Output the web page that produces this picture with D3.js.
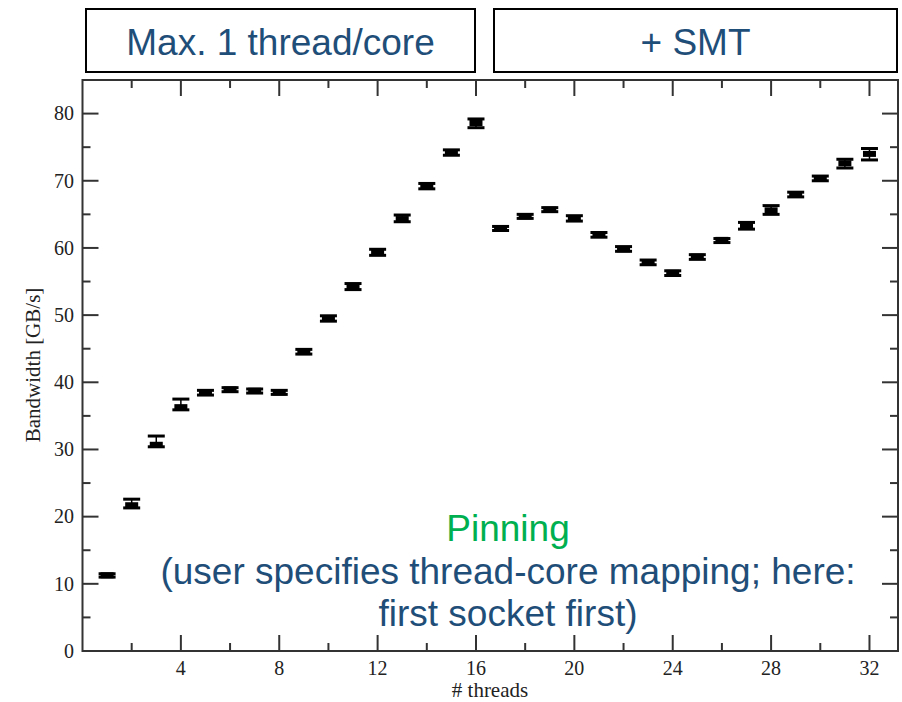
<!DOCTYPE html>
<html>
<head>
<meta charset="utf-8">
<script src="https://cdn.jsdelivr.net/npm/d3@7"></script>
<style>
  body { margin: 0; background: #fff; }
  svg { display: block; }
</style>
</head>
<body>
<div id="chart"></div>
<script>
// thread counts and measured bandwidth (GB/s) with error bar bounds
var threads = d3.range(1, 33);
var bandwidth = [11.27, 21.7, 30.7, 36.3, 38.45, 38.94, 38.74, 38.5,
    44.5, 49.5, 54.2, 59.3, 64.3, 69.2, 74.2, 78.6,
    62.9, 64.7, 65.7, 64.4, 62.0, 59.8, 57.8, 56.3,
    58.7, 61.2, 63.3, 65.6, 68.0, 70.3, 72.6, 74.0];
var errLow = [11.0, 21.3, 30.4, 35.9, 38.1, 38.6, 38.4, 38.2,
    44.2, 49.1, 53.8, 58.9, 63.9, 68.8, 73.8, 77.9,
    62.6, 64.4, 65.4, 64.0, 61.6, 59.5, 57.5, 55.9,
    58.3, 60.8, 62.8, 65.0, 67.6, 70.0, 71.9, 73.1];
var errHigh = [11.5, 22.6, 32.0, 37.5, 38.8, 39.2, 39.0, 38.8,
    44.9, 49.9, 54.7, 59.8, 64.9, 69.6, 74.6, 79.2,
    63.2, 65.0, 66.0, 64.8, 62.3, 60.2, 58.2, 56.6,
    59.0, 61.4, 63.8, 66.3, 68.3, 70.7, 73.2, 74.8];

var xTicks = [4, 8, 12, 16, 20, 24, 28, 32];
var yTicks = [0, 10, 20, 30, 40, 50, 60, 70, 80];
var headers = ["Max. 1 thread/core", "+ SMT"];
var noteTitle = "Pinning";
var noteLines = ["(user specifies thread-core mapping; here:", "first socket first)"];

var width = 902;
var height = 702;

var margin = {
    top: 80,
    bottom: 51,
    left: 82.5,
    right: 4
};

var innerW = width - margin.left - margin.right;
var innerH = height - margin.top - margin.bottom;

var sans = 'Liberation Sans, Arial, sans-serif';
var serif = 'Liberation Serif, Times New Roman, serif';
var blue = '#1F4E79';

var svg = d3.select('#chart')
    .append('svg')
    .attr('width', width)
    .attr('height', height);

// header boxes above the plot
var boxes = [
    {x: 86, w: 389},
    {x: 494, w: 403}
];
boxes.forEach(function(b, i) {
    svg.append('rect')
        .attr('x', b.x)
        .attr('y', 9)
        .attr('width', b.w)
        .attr('height', 63)
        .attr('fill', 'none')
        .attr('stroke', '#000')
        .attr('stroke-width', 2);
    svg.append('text')
        .attr('x', b.x + b.w / 2)
        .attr('y', 55)
        .attr('text-anchor', 'middle')
        .attr('font-family', sans)
        .attr('font-size', 37)
        .attr('fill', blue)
        .text(headers[i]);
});

var g = svg.append('g')
    .attr('transform', 'translate(' + margin.left + ',' + margin.top + ')');

var x_scale = d3.scaleLinear()
    .domain([0, 33.16])
    .range([0, innerW]);

var y_scale = d3.scaleLinear()
    .domain([0, 85])
    .range([innerH, 0]);

var axisColor = '#333';
var major = 16, minor = 8;

// ticks on all four sides, pointing inward
var xAll = d3.range(2, 33, 2);
var yAll = d3.range(5, 85, 5);

var tickG = g.append('g')
    .attr('stroke', axisColor)
    .attr('stroke-width', 2);

xAll.forEach(function(v) {
    var len = v % 4 === 0 ? major : minor;
    var px = x_scale(v);
    tickG.append('line')
        .attr('x1', px).attr('x2', px)
        .attr('y1', innerH).attr('y2', innerH - len);
    tickG.append('line')
        .attr('x1', px).attr('x2', px)
        .attr('y1', 0).attr('y2', len);
});

yAll.forEach(function(v) {
    var len = v % 10 === 0 ? major : minor;
    var py = y_scale(v);
    tickG.append('line')
        .attr('x1', 0).attr('x2', len)
        .attr('y1', py).attr('y2', py);
    tickG.append('line')
        .attr('x1', innerW).attr('x2', innerW - len)
        .attr('y1', py).attr('y2', py);
});

// frame
g.append('rect')
    .attr('x', 0)
    .attr('y', 0)
    .attr('width', innerW)
    .attr('height', innerH)
    .attr('fill', 'none')
    .attr('stroke', axisColor)
    .attr('stroke-width', 2);

// tick labels
g.selectAll('.xlab')
    .data(xTicks)
    .enter()
    .append('text')
    .attr('class', 'xlab')
    .attr('x', function(d) { return x_scale(d); })
    .attr('y', innerH + 24)
    .attr('text-anchor', 'middle')
    .attr('font-family', serif)
    .attr('font-size', 20)
    .attr('fill', '#222')
    .text(function(d) { return d; });

g.selectAll('.ylab')
    .data(yTicks)
    .enter()
    .append('text')
    .attr('class', 'ylab')
    .attr('x', -8.5)
    .attr('y', function(d) { return y_scale(d); })
    .attr('dy', '0.34em')
    .attr('text-anchor', 'end')
    .attr('font-family', serif)
    .attr('font-size', 20)
    .attr('fill', '#222')
    .text(function(d) { return d; });

// axis titles
svg.append('text')
    .attr('transform', 'translate(40,' + 365 + ')rotate(-90)')
    .attr('text-anchor', 'middle')
    .attr('font-family', serif)
    .attr('font-size', 21)
    .attr('fill', '#222')
    .text('Bandwidth [GB/s]');

svg.append('text')
    .attr('x', 490)
    .attr('y', 697)
    .attr('text-anchor', 'middle')
    .attr('font-family', serif)
    .attr('font-size', 21)
    .attr('fill', '#222')
    .text('# threads');

// error bars with filled markers
var pts = threads.map(function(t, i) {
    return {t: t, v: bandwidth[i], lo: errLow[i], hi: errHigh[i]};
});

var bar = g.selectAll('.bar')
    .data(pts)
    .enter()
    .append('g')
    .attr('class', 'bar');

bar.append('line')
    .attr('x1', function(d) { return x_scale(d.t); })
    .attr('x2', function(d) { return x_scale(d.t); })
    .attr('y1', function(d) { return y_scale(d.lo); })
    .attr('y2', function(d) { return y_scale(d.hi); })
    .attr('stroke', '#000')
    .attr('stroke-width', 1.5);

['lo', 'hi'].forEach(function(k) {
    bar.append('line')
        .attr('x1', function(d) { return x_scale(d.t) - 8.5; })
        .attr('x2', function(d) { return x_scale(d.t) + 8.5; })
        .attr('y1', function(d) { return y_scale(d[k]); })
        .attr('y2', function(d) { return y_scale(d[k]); })
        .attr('stroke', '#000')
        .attr('stroke-width', 3);
});

bar.append('rect')
    .attr('x', function(d) { return x_scale(d.t) - 6.5; })
    .attr('y', function(d) { return y_scale(d.v) - 3; })
    .attr('width', 13)
    .attr('height', 6)
    .attr('fill', '#000');

// annotation
svg.append('text')
    .attr('x', 508)
    .attr('y', 541)
    .attr('text-anchor', 'middle')
    .attr('font-family', sans)
    .attr('font-size', 37)
    .attr('fill', '#00B050')
    .text(noteTitle);

noteLines.forEach(function(s, i) {
    svg.append('text')
        .attr('x', 508)
        .attr('y', 584 + i * 42)
        .attr('text-anchor', 'middle')
        .attr('font-family', sans)
        .attr('font-size', 37)
        .attr('fill', blue)
        .text(s);
});
</script>
</body>
</html>
